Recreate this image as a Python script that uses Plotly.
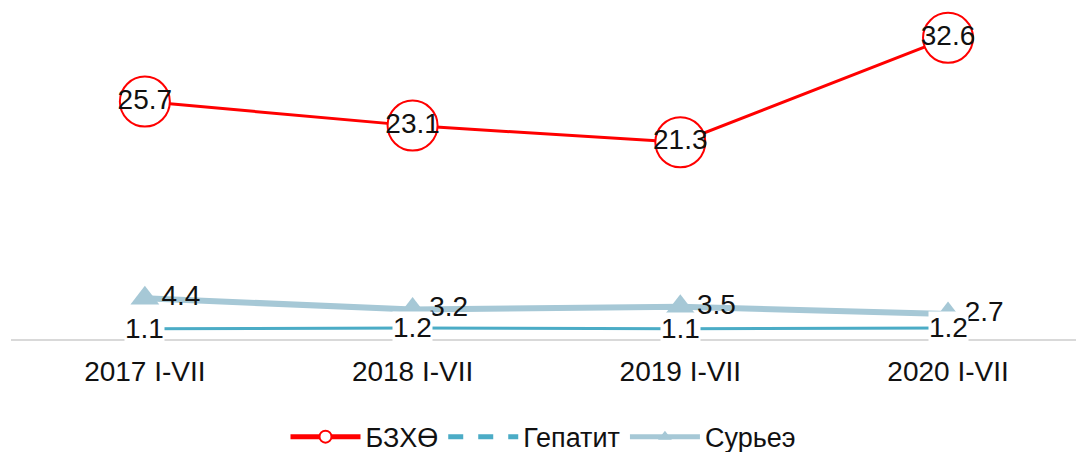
import plotly.graph_objects as go

categories = ["2017 I-VII", "2018 I-VII", "2019 I-VII", "2020 I-VII"]
bzkho = [25.7, 23.1, 21.3, 32.6]
gepatit = [1.1, 1.2, 1.1, 1.2]
suriee = [4.4, 3.2, 3.5, 2.7]

FONT = "Liberation Sans, Arial, sans-serif"
RED = "#ff0000"
BLUE = "#4bacc6"
LIGHT = "#a6c8d6"
TXT = "#111111"

fig = go.Figure()

fig.add_trace(go.Scatter(
    x=categories, y=suriee, name="Сурьеэ", mode="lines+markers+text",
    line=dict(color=LIGHT, width=6),
    marker=dict(symbol="triangle-up", size=25, color=LIGHT),
    text=[f"{v:.1f}" for v in suriee], textposition="middle right",
    textfont=dict(size=28, color=TXT, family=FONT),
    legendrank=3,
))

fig.add_trace(go.Scatter(
    x=categories, y=gepatit, name="Гепатит", mode="lines",
    line=dict(color=BLUE, width=3), showlegend=False,
))
fig.add_trace(go.Scatter(
    x=[None], y=[None], name="Гепатит", mode="lines",
    line=dict(color=BLUE, width=3, dash="dash"), legendrank=2,
))

fig.add_trace(go.Scatter(
    x=categories, y=bzkho, name="БЗХӨ", mode="lines+markers+text",
    line=dict(color=RED, width=3),
    marker=dict(symbol="circle", size=50, color="white", line=dict(color=RED, width=2)),
    text=[f"{v:.1f}" for v in bzkho], textposition="middle center",
    textfont=dict(size=28, color=TXT, family=FONT),
    legendrank=1,
))

for c, v in zip(categories, gepatit):
    fig.add_annotation(
        x=c, y=v, text=f"{v:.1f}", showarrow=False,
        font=dict(size=28, color=TXT, family=FONT),
        bgcolor="white", borderpad=0,
    )

fig.update_layout(
    width=1076, height=452,
    margin=dict(l=11, r=0, t=0, b=113),
    paper_bgcolor="white", plot_bgcolor="white",
    font=dict(family=FONT, color=TXT),
    showlegend=True,
    legend=dict(
        orientation="h", x=0.5, xanchor="center", y=0.033, yref="container",
        yanchor="middle", font=dict(size=27, color=TXT, family=FONT),
        itemsizing="constant", itemwidth=70, traceorder="normal",
    ),
    xaxis=dict(
        type="category", range=[-0.5, 3.478], showgrid=False,
        showline=True, linecolor="#d9d9d9", linewidth=2,
        ticks="", tickfont=dict(size=28, color=TXT, family=FONT),
        ticklabelstandoff=6, zeroline=False,
    ),
    yaxis=dict(
        range=[0, 36.7], visible=False, showgrid=False, zeroline=False,
    ),
)

fig.write_html(
    "out.html",
    config={"displayModeBar": False},
    post_script="document.body.style.margin='0';document.body.style.overflow='hidden';",
)
